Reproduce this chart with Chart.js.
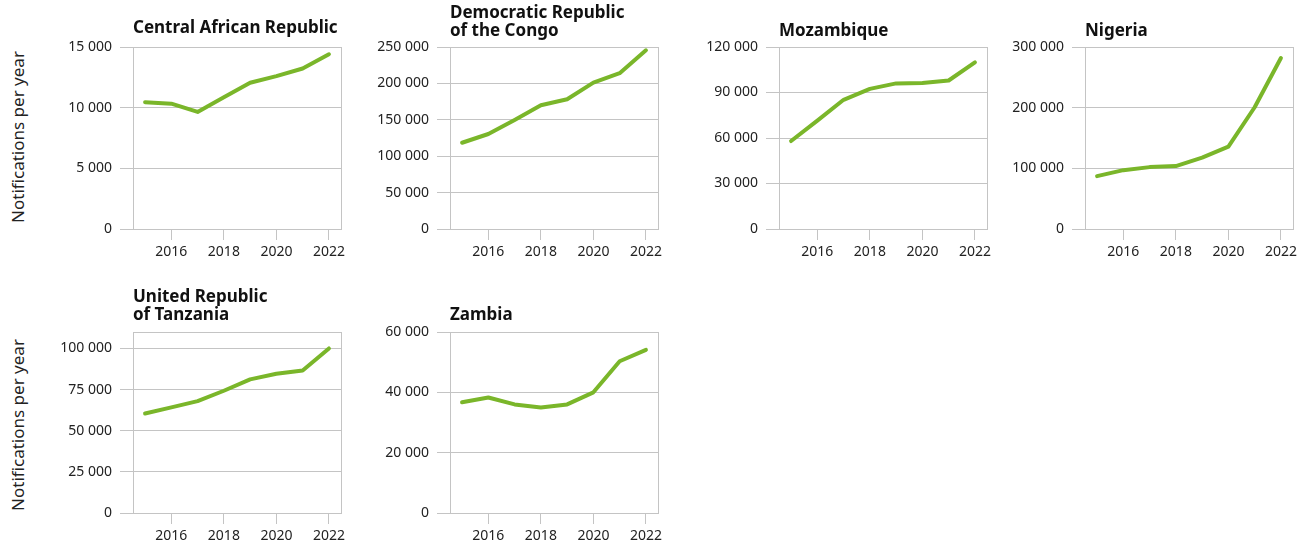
<!DOCTYPE html>
<html>
<head>
<meta charset="utf-8">
<script src="https://cdn.jsdelivr.net/npm/chart.js@4.4.1/dist/chart.umd.min.js"></script>
<style>
  body { margin: 0; background: #fff; width: 1304px; height: 549px; position: relative; overflow: hidden; font-family: "Noto Sans", sans-serif; }
  canvas { position: absolute; }
  .titulo { position: absolute; font-weight: bold; font-size: 17px; line-height: 18.5px; color: #111; white-space: nowrap; }
  .eixo { position: absolute; font-size: 17px; color: #222; white-space: nowrap; transform: translate(-50%, -50%) rotate(-90deg); }
</style>
</head>
<body>
<script>
// Dados
const anos = [2015, 2016, 2017, 2018, 2019, 2020, 2021, 2022];
const ticksAnos = [2016, 2018, 2020, 2022];

const valoresCAR = [10450, 10330, 9650, 10850, 12050, 12600, 13230, 14400];
const valoresRDC = [118500, 130500, 149800, 170000, 178300, 201000, 214000, 245400];
const valoresMoz = [58000, 71500, 85200, 92400, 96000, 96200, 97900, 109900];
const valoresNig = [87100, 97000, 102000, 103700, 117500, 135700, 200700, 281800];
const valoresTan = [60500, 64200, 68000, 74300, 81200, 84600, 86600, 100000];
const valoresZam = [36700, 38300, 36000, 35000, 36000, 40000, 50300, 54100];

const ticksCAR = [0, 5000, 10000, 15000];
const ticksRDC = [0, 50000, 100000, 150000, 200000, 250000];
const ticksMoz = [0, 30000, 60000, 90000, 120000];
const ticksNig = [0, 100000, 200000, 300000];
const ticksTan = [0, 25000, 50000, 75000, 100000];
const ticksZam = [0, 20000, 40000, 60000];

const tituloEixoY = "Notifications per year";

const paineis = [
  { titulo: ["Central African Republic"], valores: valoresCAR, ticks: ticksCAR, max: 15000, x: 133, y: 47, h: 182, tituloTop: 17.5 },
  { titulo: ["Democratic Republic", "of the Congo"], valores: valoresRDC, ticks: ticksRDC, max: 250000, x: 450, y: 47, h: 182, tituloTop: 2.5 },
  { titulo: ["Mozambique"], valores: valoresMoz, ticks: ticksMoz, max: 120000, x: 779, y: 47, h: 182, tituloTop: 20.5 },
  { titulo: ["Nigeria"], valores: valoresNig, ticks: ticksNig, max: 300000, x: 1085, y: 47, h: 182, tituloTop: 20.5 },
  { titulo: ["United Republic", "of Tanzania"], valores: valoresTan, ticks: ticksTan, max: 110000, x: 133, y: 332, h: 181, tituloTop: 286.5 },
  { titulo: ["Zambia"], valores: valoresZam, ticks: ticksZam, max: 60000, x: 450, y: 332, h: 181, tituloTop: 305 },
];

const larguraPlot = 208;
const larguraEixoY = 90;
const alturaEixoX = 40;
const folgaTopo = 22;
const folgaDireita = 24;
const corGrade = "#c4c4c4";
const corTexto = "#222";

// Moldura cinza em volta da área do gráfico
const moldura = {
  id: "moldura",
  beforeDatasetsDraw(chart) {
    const { ctx, chartArea: a } = chart;
    ctx.save();
    ctx.strokeStyle = corGrade;
    ctx.lineWidth = 1;
    ctx.strokeRect(Math.round(a.left) + 0.5, Math.round(a.top) + 0.5, Math.round(a.right - a.left), Math.round(a.bottom - a.top));
    ctx.restore();
  },
};

function formatarNumero(v) {
  return Number(v).toLocaleString("en-US").replace(/,/g, " ");
}

function criarPainel(p) {
  const canvas = document.createElement("canvas");
  const largura = larguraEixoY + larguraPlot + folgaDireita;
  const altura = folgaTopo + p.h + alturaEixoX;
  canvas.width = largura;
  canvas.height = altura;
  canvas.style.left = p.x - larguraEixoY + "px";
  canvas.style.top = p.y - folgaTopo + "px";
  canvas.style.width = largura + "px";
  canvas.style.height = altura + "px";
  document.body.appendChild(canvas);

  const titulo = document.createElement("div");
  titulo.className = "titulo";
  titulo.style.left = p.x + "px";
  titulo.style.top = p.tituloTop + "px";
  titulo.innerHTML = p.titulo.join("<br>");
  document.body.appendChild(titulo);

  new Chart(canvas.getContext("2d"), {
    type: "line",
    data: {
      datasets: [
        {
          data: anos.map((a, i) => ({ x: a, y: p.valores[i] })),
          borderColor: "#7ab62a",
          borderWidth: 4,
          pointRadius: 0,
          tension: 0,
          borderCapStyle: "round",
          borderJoinStyle: "round",
        },
      ],
    },
    options: {
      responsive: false,
      animation: false,
      devicePixelRatio: 1,
      layout: { padding: { top: folgaTopo, right: folgaDireita, left: 0, bottom: 0 } },
      plugins: { legend: { display: false }, tooltip: { enabled: false } },
      scales: {
        x: {
          type: "linear",
          min: 2014.54,
          max: 2022.46,
          afterBuildTicks: (s) => { s.ticks = ticksAnos.map((v) => ({ value: v })); },
          afterFit: (s) => { s.height = alturaEixoX; },
          grid: { drawOnChartArea: false, drawTicks: true, tickLength: 11, color: corGrade },
          border: { color: corGrade },
          ticks: { color: corTexto, padding: 4, font: { family: "Noto Sans", size: 14 }, maxRotation: 0, callback: (v) => String(v) },
        },
        y: {
          min: 0,
          max: p.max,
          afterBuildTicks: (s) => { s.ticks = p.ticks.map((v) => ({ value: v })); },
          afterFit: (s) => { s.width = larguraEixoY; },
          grid: { color: corGrade, tickLength: 13 },
          border: { color: corGrade },
          ticks: { color: corTexto, padding: 8, font: { family: "Noto Sans", size: 14 }, callback: formatarNumero },
        },
      },
    },
    plugins: [moldura],
  });
}

paineis.forEach(criarPainel);

// Título do eixo Y nas duas linhas
[137, 425].forEach((cy) => {
  const d = document.createElement("div");
  d.className = "eixo";
  d.style.left = "17px";
  d.style.top = cy + "px";
  d.textContent = tituloEixoY;
  document.body.appendChild(d);
});
</script>
</body>
</html>
